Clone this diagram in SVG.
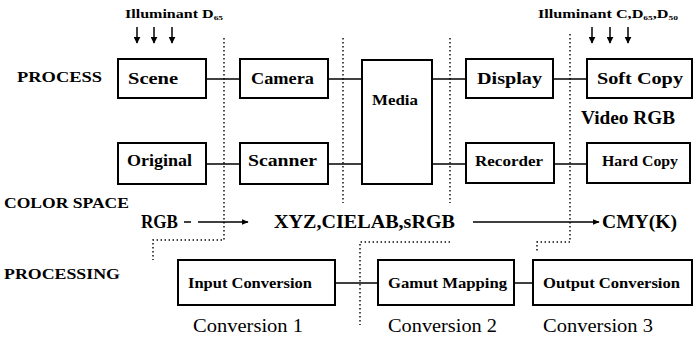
<svg xmlns="http://www.w3.org/2000/svg" width="694" height="339" viewBox="0 0 694 339">
<style>
  .t { font-family: "Liberation Serif", "DejaVu Serif", serif; font-weight: bold; fill: #000; }
  .n { font-family: "Liberation Serif", "DejaVu Serif", serif; fill: #000; }
  .box { fill: #fff; stroke: #000; stroke-width: 2; }
  .line { stroke: #000; stroke-width: 1.5; fill: none; }
  .dot { stroke: #000; stroke-width: 1.4; fill: none; stroke-dasharray: 1.4 2.6; }
</style>
<defs>
  <marker id="ah" viewBox="0 0 10 10" refX="9" refY="5" markerWidth="7" markerHeight="7" markerUnits="userSpaceOnUse" orient="auto">
    <path d="M0,1 L10,5 L0,9 Z" fill="#000"/>
  </marker>
  <marker id="ahd" viewBox="0 0 10 10" refX="9" refY="5" markerWidth="7" markerHeight="7" markerUnits="userSpaceOnUse" orient="auto">
    <path d="M0,0 L10,5 L0,10 Z" fill="#000"/>
  </marker>
</defs>
<rect width="694" height="339" fill="#fff"/>

<!-- row labels -->
<text class="t" x="17" y="82" font-size="14" textLength="85" lengthAdjust="spacingAndGlyphs">PROCESS</text>
<text class="t" x="4" y="208" font-size="14" textLength="125" lengthAdjust="spacingAndGlyphs">COLOR SPACE</text>
<text class="t" x="4" y="279" font-size="14" textLength="116" lengthAdjust="spacingAndGlyphs">PROCESSING</text>

<!-- illuminants -->
<text class="t" x="125" y="18" font-size="12" textLength="98" lengthAdjust="spacingAndGlyphs">Illuminant D<tspan font-size="7" dy="2">65</tspan></text>
<text class="t" x="538" y="18" font-size="12" textLength="140" lengthAdjust="spacingAndGlyphs">Illuminant C,D<tspan font-size="7" dy="2">65</tspan><tspan dy="-2">,D</tspan><tspan font-size="7" dy="2">50</tspan></text>

<!-- connectors -->
<g id="connectors">
  <line class="line" x1="137" y1="27" x2="137" y2="43" marker-end="url(#ahd)"/>
  <line class="line" x1="154" y1="27" x2="154" y2="43" marker-end="url(#ahd)"/>
  <line class="line" x1="172" y1="27" x2="172" y2="43" marker-end="url(#ahd)"/>
  <line class="line" x1="592" y1="27" x2="592" y2="43" marker-end="url(#ahd)"/>
  <line class="line" x1="610" y1="27" x2="610" y2="43" marker-end="url(#ahd)"/>
  <line class="line" x1="628" y1="27" x2="628" y2="43" marker-end="url(#ahd)"/>
  <line class="line" x1="206" y1="79" x2="240" y2="79"/>
  <line class="line" x1="328" y1="79" x2="362" y2="79"/>
  <line class="line" x1="432" y1="79" x2="466" y2="79"/>
  <line class="line" x1="553" y1="79" x2="587" y2="79"/>
  <line class="line" x1="206" y1="164" x2="240" y2="164"/>
  <line class="line" x1="328" y1="164" x2="362" y2="164"/>
  <line class="line" x1="432" y1="164" x2="466" y2="164"/>
  <line class="line" x1="554" y1="164" x2="587" y2="164"/>
  <line class="line" x1="184" y1="222" x2="191" y2="222"/>
  <line class="line" x1="198" y1="222" x2="248" y2="222" marker-end="url(#ah)"/>
  <line class="line" x1="473" y1="222" x2="599" y2="222" marker-end="url(#ah)"/>
  <line class="line" x1="335" y1="283" x2="378" y2="283"/>
  <line class="line" x1="514" y1="283" x2="533" y2="283"/>
  <path class="dot" d="M224 38 V240 H153 V260"/>
  <path class="dot" d="M343 38 V203"/>
  <path class="dot" d="M450 38 V203"/>
  <path class="dot" d="M450 242 H360 V325"/>
  <path class="dot" d="M570 34 V242 H537 V252"/>
</g>

<g id="scene">
  <rect class="box" x="118" y="59" width="88" height="39"/>
  <text class="t" x="128" y="84" font-size="17" textLength="50" lengthAdjust="spacingAndGlyphs">Scene</text>
</g>
<g id="camera">
  <rect class="box" x="240" y="59" width="88" height="39"/>
  <text class="t" x="251" y="84" font-size="17" textLength="63" lengthAdjust="spacingAndGlyphs">Camera</text>
</g>
<g id="media">
  <rect class="box" x="362" y="60" width="70" height="124"/>
  <text class="t" x="372" y="105" font-size="15" textLength="46" lengthAdjust="spacingAndGlyphs">Media</text>
</g>
<g id="display">
  <rect class="box" x="466" y="59" width="87" height="39"/>
  <text class="t" x="477" y="84" font-size="17" textLength="65" lengthAdjust="spacingAndGlyphs">Display</text>
</g>
<g id="softcopy">
  <rect class="box" x="587" y="59" width="105" height="39"/>
  <text class="t" x="597" y="84" font-size="17" textLength="86" lengthAdjust="spacingAndGlyphs">Soft Copy</text>
</g>
<text class="t" x="581" y="124" font-size="18" textLength="94" lengthAdjust="spacingAndGlyphs">Video RGB</text>

<g id="original">
  <rect class="box" x="118" y="143" width="88" height="41"/>
  <text class="t" x="127" y="166" font-size="16" textLength="65" lengthAdjust="spacingAndGlyphs">Original</text>
</g>
<g id="scanner">
  <rect class="box" x="240" y="143" width="88" height="41"/>
  <text class="t" x="248" y="166" font-size="16" textLength="69" lengthAdjust="spacingAndGlyphs">Scanner</text>
</g>
<g id="recorder">
  <rect class="box" x="466" y="143" width="88" height="40"/>
  <text class="t" x="475" y="166" font-size="14" textLength="68" lengthAdjust="spacingAndGlyphs">Recorder</text>
</g>
<g id="hardcopy">
  <rect class="box" x="587" y="143" width="103" height="40"/>
  <text class="t" x="602" y="166" font-size="15" textLength="76" lengthAdjust="spacingAndGlyphs">Hard Copy</text>
</g>

<text class="t" x="141" y="228" font-size="18" textLength="37" lengthAdjust="spacingAndGlyphs">RGB</text>
<text class="t" x="274" y="228" font-size="18" textLength="181" lengthAdjust="spacingAndGlyphs">XYZ,CIELAB,sRGB</text>
<text class="t" x="602" y="228" font-size="18" textLength="75" lengthAdjust="spacingAndGlyphs">CMY(K)</text>

<g id="input-conversion">
  <rect class="box" x="178" y="260" width="157" height="45"/>
  <text class="t" x="188" y="288" font-size="14" textLength="124" lengthAdjust="spacingAndGlyphs">Input Conversion</text>
</g>
<g id="gamut-mapping">
  <rect class="box" x="378" y="260" width="136" height="45"/>
  <text class="t" x="388" y="288" font-size="15" textLength="119" lengthAdjust="spacingAndGlyphs">Gamut Mapping</text>
</g>
<g id="output-conversion">
  <rect class="box" x="533" y="260" width="159" height="45"/>
  <text class="t" x="543" y="288" font-size="14" textLength="137" lengthAdjust="spacingAndGlyphs">Output Conversion</text>
</g>

<text class="n" x="193" y="332" font-size="18" textLength="110" lengthAdjust="spacingAndGlyphs">Conversion 1</text>
<text class="n" x="388" y="332" font-size="18" textLength="109" lengthAdjust="spacingAndGlyphs">Conversion 2</text>
<text class="n" x="543" y="332" font-size="18" textLength="110" lengthAdjust="spacingAndGlyphs">Conversion 3</text>
</svg>
